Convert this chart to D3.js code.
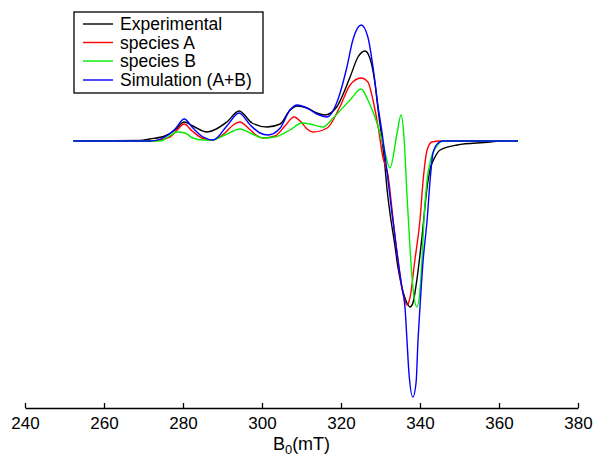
<!DOCTYPE html>
<html>
<head>
<meta charset="utf-8">
<script src="https://cdn.jsdelivr.net/npm/d3@7"></script>
<style>
  body { margin: 0; background: #fff; }
  svg { display: block; font-family: "Liberation Sans", Arial, sans-serif; }
</style>
</head>
<body>
<div id="chart"></div>
<script>
// EPR spectra, field in mT, intensity in arbitrary units
var experimental = [
  [255.0, 0], [269.1, 0.005], [271.6, 0.02], [275.4, 0.05], [278.0, 0.11], [280.3, 0.19],
  [282.5, 0.15], [286.1, 0.09], [291.1, 0.19], [294.2, 0.30], [297.5, 0.18], [301.3, 0.14],
  [304.6, 0.17], [307.1, 0.31], [308.9, 0.35], [311.4, 0.33], [313.9, 0.28], [315.9, 0.26],
  [318.9, 0.34], [322.3, 0.64], [324.3, 0.84], [326.1, 0.90], [327.3, 0.83], [328.6, 0.58],
  [329.4, 0.31], [330.4, 0.01], [331.1, -0.24], [331.6, -0.46], [332.4, -0.72], [333.7, -1.06],
  [334.4, -1.26], [335.4, -1.46], [336.7, -1.62], [337.5, -1.66], [338.2, -1.62], [339.2, -1.39],
  [340.5, -0.96], [341.8, -0.46], [342.5, -0.29], [343.8, -0.16], [345.1, -0.09], [349.4, -0.04],
  [357.7, -0.01], [359.7, 0]
];

var speciesA = [
  [252.2, 0], [271.6, 0], [276.7, 0.04], [278.5, 0.11], [280.3, 0.17], [282.3, 0.10],
  [284.8, 0.03], [287.3, 0.01], [290.6, 0.08], [292.7, 0.16], [294.4, 0.19], [296.5, 0.13],
  [298.5, 0.06], [300.3, 0.03], [303.3, 0.05], [305.8, 0.15], [308.1, 0.24], [309.9, 0.19],
  [311.4, 0.12], [312.9, 0.09], [316.5, 0.13], [319.7, 0.34], [322.3, 0.56], [325.1, 0.63],
  [326.8, 0.59], [328.1, 0.41], [329.4, 0.14], [330.6, -0.16], [331.9, -0.34], [333.2, -0.79],
  [334.4, -1.19], [335.7, -1.52], [336.7, -1.64], [337.5, -1.56], [338.7, -1.19], [340.0, -0.79],
  [340.8, -0.39], [341.8, -0.09], [343.0, -0.01], [345.1, 0], [364.8, 0]
];

var speciesB = [
  [252.2, 0], [274.2, 0], [276.2, 0.04], [278.5, 0.09], [280.5, 0.08], [282.5, 0.03],
  [285.1, 0.01], [287.3, 0.01], [290.6, 0.06], [294.4, 0.12], [297.5, 0.07], [300.3, 0.03],
  [303.3, 0.04], [307.1, 0.11], [310.1, 0.18], [312.2, 0.17], [315.4, 0.14], [318.0, 0.23],
  [322.3, 0.41], [325.1, 0.52], [326.8, 0.41], [329.1, 0.18], [330.6, -0.02], [332.4, -0.27],
  [334.2, 0.08], [335.2, 0.26], [336.0, 0.01], [336.7, -0.54], [337.5, -1.09], [338.2, -1.46],
  [339.2, -1.66], [340.0, -1.49], [340.5, -1.19], [341.0, -0.79], [341.8, -0.39], [342.8, -0.17],
  [344.1, -0.06], [345.6, 0], [364.8, 0]
];

var simulation = [
  [252.2, 0], [271.6, 0], [275.4, 0.04], [278.0, 0.12], [280.3, 0.22], [282.5, 0.13],
  [285.1, 0.04], [287.6, 0.01], [291.1, 0.15], [294.2, 0.28], [297.0, 0.16], [299.5, 0.08],
  [301.5, 0.06], [304.6, 0.13], [307.1, 0.31], [308.9, 0.36], [311.4, 0.33], [313.9, 0.27],
  [316.5, 0.24], [318.9, 0.38], [321.5, 0.74], [323.0, 1.01], [325.1, 1.16], [326.8, 1.04],
  [328.1, 0.74], [329.4, 0.34], [330.4, 0.08], [331.6, -0.29], [332.9, -0.72], [334.2, -1.12],
  [335.4, -1.46], [336.2, -1.66], [336.7, -1.99], [337.2, -2.32], [338.2, -2.56], [339.0, -2.42],
  [339.5, -1.99], [340.0, -1.66], [340.8, -1.19], [341.8, -0.79], [342.5, -0.42], [343.3, -0.12],
  [344.6, -0.02], [345.8, 0], [364.8, 0]
];

var seriesNames = ["Experimental", "species A", "species B", "Simulation (A+B)"];
var seriesColors = ["#000000", "#ff0000", "#00ee00", "#0000ff"];
var seriesData = [experimental, speciesA, speciesB, simulation];

var xTicks = [240, 260, 280, 300, 320, 340, 360, 380];

var width = 595, height = 456;

var svg = d3.select("#chart")
    .append("svg")
    .attr("width", width)
    .attr("height", height);

var x = d3.scaleLinear()
    .domain([240, 380])
    .range([25, 578]);

// no y axis drawn in the original, baseline sits at ~141px
var y = d3.scaleLinear()
    .domain([-2.67, 1.41])
    .range([408, 0]);

var line = d3.line()
    .x(function (d) { return x(d[0]); })
    .y(function (d) { return y(d[1]); })
    .curve(d3.curveMonotoneX);

// draw in legend order, blue ends up on top
for (var i = 0; i < seriesData.length; i++) {
    svg.append("path")
        .datum(seriesData[i])
        .attr("fill", "none")
        .attr("stroke", seriesColors[i])
        .attr("stroke-width", 1.4)
        .attr("stroke-linejoin", "round")
        .attr("d", line);
}

// x axis, ticks point inward
var xaxis = svg.append("g")
    .attr("transform", "translate(0,408)")
    .call(d3.axisBottom(x)
        .tickValues(xTicks)
        .tickSizeInner(-5)
        .tickSizeOuter(0)
        .tickPadding(9));

xaxis.select("path").attr("stroke", "#000").attr("stroke-width", 1.3);
xaxis.selectAll("line").attr("stroke", "#000").attr("stroke-width", 1.3);
xaxis.selectAll("text")
    .attr("fill", "#000")
    .style("font-size", "17px")
    .style("font-family", "'Liberation Sans', Arial, sans-serif");

// axis title  B0(mT)
var title = svg.append("text")
    .attr("x", x(310))
    .attr("y", 450)
    .attr("text-anchor", "middle")
    .style("font-size", "18px")
    .attr("fill", "#000");
title.append("tspan").text("B");
title.append("tspan").attr("dy", 4).style("font-size", "13px").text("0");
title.append("tspan").attr("dy", -4).text("(mT)");

// legend
var legend = svg.append("g");
legend.append("rect")
    .attr("x", 74)
    .attr("y", 12)
    .attr("width", 189)
    .attr("height", 81)
    .attr("fill", "#fff")
    .attr("stroke", "#000")
    .attr("stroke-width", 1.3);

var rowY = [24, 42.5, 61, 80];
for (var k = 0; k < seriesNames.length; k++) {
    legend.append("line")
        .attr("x1", 83)
        .attr("x2", 113)
        .attr("y1", rowY[k])
        .attr("y2", rowY[k])
        .attr("stroke", seriesColors[k])
        .attr("stroke-width", 1.4);
    legend.append("text")
        .attr("x", 120)
        .attr("y", rowY[k])
        .attr("dy", "0.36em")
        .style("font-size", "17.5px")
        .attr("fill", "#000")
        .text(seriesNames[k]);
}
</script>
</body>
</html>
